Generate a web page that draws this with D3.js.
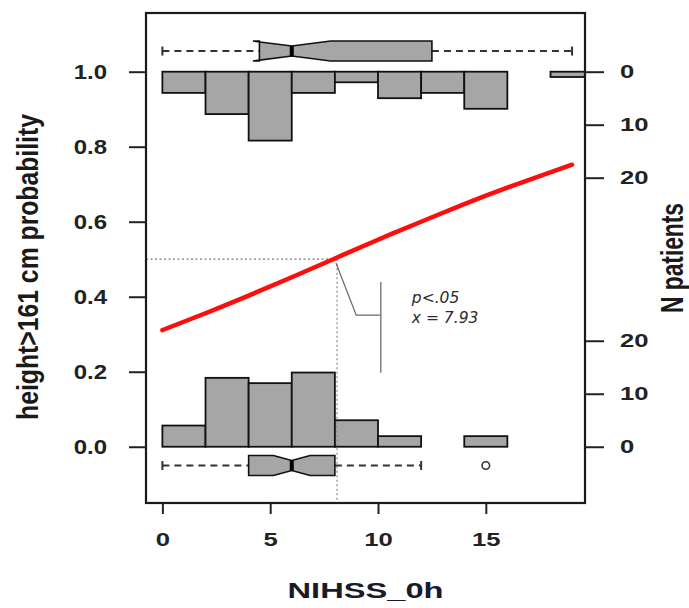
<!DOCTYPE html>
<html>
<head>
<meta charset="utf-8">
<script src="https://cdn.jsdelivr.net/npm/d3@7"></script>
<style>
  body { margin: 0; background: #fff; }
  svg { display: block; }
</style>
</head>
<body>
<div id="chart"></div>
<script>
// histogram of NIHSS_0h, bins of width 2
const binStarts = [0, 2, 4, 6, 8, 10, 12, 14, 16, 18];
const binWidth = 2;
const countsHigh = [4, 8, 13, 4, 2, 5, 4, 7, 0, 1];   // height>161 cm (hanging from top)
const countsLow = [4, 13, 12, 14, 5, 2, 0, 2, 0, 0];  // the rest (standing on 0)

// notched boxplots: [whisker lo, q1, notch lo, median, notch hi, q3, whisker hi]
const boxHigh = [0, 4.5, 4.2, 6, 7.8, 12.5, 19];
const boxLow = [0, 4, 5.15, 6, 6.85, 8, 12];
const outliersLow = [15];

// fitted logistic curve
const curveX = [0, 2, 4, 6, 8, 10, 12, 14, 16, 19];
const curveP = [0.311, 0.356, 0.403, 0.452, 0.502, 0.552, 0.600, 0.647, 0.691, 0.752];

// cut point annotation
const cutX = 8.1;
const cutP = 0.5;
const leader = [[8.05, 0.49], [8.99, 0.351], [10.13, 0.351]];
const bracket = [[10.13, 0.439], [10.13, 0.197]];
const noteLines = ["p<.05", "x = 7.93"];

const xTicks = [0, 5, 10, 15];
const yTicks = [0, 0.2, 0.4, 0.6, 0.8, 1.0];
const nTicks = [0, 10, 20];

const W = 689, H = 608;
const plot = {left: 146, right: 585, top: 13, bottom: 503};

const svg = d3.select("#chart").append("svg")
    .attr("width", W)
    .attr("height", H);

const x = d3.scaleLinear().domain([-0.76, 19.6]).range([plot.left, plot.right]);
const y = d3.scaleLinear().domain([-0.15, 1.1565]).range([plot.bottom, plot.top]);
// patient counts, drawn down from p=1 and up from p=0
const nTop = d3.scaleLinear().domain([0, 20]).range([y(1), y(1) + 106]);
const nBot = d3.scaleLinear().domain([0, 20]).range([y(0), y(0) - 106]);

svg.append("clipPath").attr("id", "clip")
  .append("rect")
    .attr("x", plot.left).attr("y", plot.top)
    .attr("width", plot.right - plot.left)
    .attr("height", plot.bottom - plot.top);

const g = svg.append("g").attr("clip-path", "url(#clip)");

const grey = "#a6a6a6";

// histograms
g.selectAll("rect.top")
  .data(binStarts.map((b, i) => ({b, n: countsHigh[i]})).filter(d => d.n > 0))
  .join("rect")
    .attr("class", "top")
    .attr("x", d => x(d.b))
    .attr("y", nTop(0))
    .attr("width", d => x(d.b + binWidth) - x(d.b))
    .attr("height", d => nTop(d.n) - nTop(0))
    .attr("fill", grey)
    .attr("stroke", "#111")
    .attr("stroke-width", 1.8);

g.selectAll("rect.bot")
  .data(binStarts.map((b, i) => ({b, n: countsLow[i]})).filter(d => d.n > 0))
  .join("rect")
    .attr("class", "bot")
    .attr("x", d => x(d.b))
    .attr("y", d => nBot(d.n))
    .attr("width", d => x(d.b + binWidth) - x(d.b))
    .attr("height", d => nBot(0) - nBot(d.n))
    .attr("fill", grey)
    .attr("stroke", "#111")
    .attr("stroke-width", 1.8);

// notched boxplot
function drawBox(stats, pos, outliers) {
  const [lo, q1, nlo, med, nhi, q3, hi] = stats;
  const cy = y(pos), h = 10;
  const bg = g.append("g");

  bg.selectAll("line.wh")
    .data([[lo, q1], [q3, hi]])
    .join("line")
      .attr("x1", d => x(d[0])).attr("x2", d => x(d[1]))
      .attr("y1", cy).attr("y2", cy)
      .attr("stroke", "#333").attr("stroke-width", 2)
      .attr("stroke-dasharray", "7,5");

  bg.selectAll("line.cap")
    .data([lo, hi])
    .join("line")
      .attr("x1", d => x(d)).attr("x2", d => x(d))
      .attr("y1", cy - 4.5).attr("y2", cy + 4.5)
      .attr("stroke", "#333").attr("stroke-width", 2);

  const pts = [
    [q1, -1], [nlo, -1], [med, -0.5], [nhi, -1], [q3, -1],
    [q3, 1], [nhi, 1], [med, 0.5], [nlo, 1], [q1, 1]
  ];
  bg.append("path")
    .attr("d", d3.line().x(d => x(d[0])).y(d => cy + d[1] * h)(pts) + "Z")
    .attr("fill", grey)
    .attr("stroke", "#111")
    .attr("stroke-width", 1.6)
    .attr("stroke-linejoin", "miter");

  bg.append("line")
    .attr("x1", x(med)).attr("x2", x(med))
    .attr("y1", cy - h / 2).attr("y2", cy + h / 2)
    .attr("stroke", "#000").attr("stroke-width", 4);

  bg.selectAll("circle")
    .data(outliers)
    .join("circle")
      .attr("cx", d => x(d)).attr("cy", cy).attr("r", 3.8)
      .attr("fill", "none").attr("stroke", "#333").attr("stroke-width", 1.6);
}

drawBox(boxHigh, 1.055, []);
drawBox(boxLow, -0.05, outliersLow);

// dotted guides at the cut point
g.append("line")
  .attr("x1", plot.left).attr("x2", x(cutX))
  .attr("y1", y(cutP)).attr("y2", y(cutP))
  .attr("stroke", "#777").attr("stroke-width", 1.2)
  .attr("stroke-dasharray", "2,2.5");
g.append("line")
  .attr("x1", x(cutX)).attr("x2", x(cutX))
  .attr("y1", y(cutP)).attr("y2", plot.bottom)
  .attr("stroke", "#888").attr("stroke-width", 1.2)
  .attr("stroke-dasharray", "2,2.5");

// fitted curve
g.append("path")
  .attr("d", d3.line().curve(d3.curveNatural)
    .x(d => x(d)).y((d, i) => y(curveP[i]))(curveX))
  .attr("fill", "none")
  .attr("stroke", "#ff0d0d")
  .attr("stroke-width", 4.5)
  .attr("stroke-linecap", "round");

// annotation
const ln = d3.line().x(d => x(d[0])).y(d => y(d[1]));
g.append("path").attr("d", ln(leader))
  .attr("fill", "none").attr("stroke", "#666").attr("stroke-width", 1.2);
g.append("path").attr("d", ln(bracket))
  .attr("fill", "none").attr("stroke", "#777").attr("stroke-width", 1.4);

svg.selectAll("text.note")
  .data(noteLines)
  .join("text")
    .attr("class", "note")
    .attr("x", x(11.57))
    .attr("y", (d, i) => y(0.384) + i * 20.3)
    .attr("font-family", "DejaVu Sans, sans-serif")
    .attr("font-style", "italic")
    .attr("font-size", 15.5)
    .attr("fill", "#2a2a2a")
    .text(d => d);

// frame
svg.append("rect")
  .attr("x", plot.left).attr("y", plot.top)
  .attr("width", plot.right - plot.left)
  .attr("height", plot.bottom - plot.top)
  .attr("fill", "none")
  .attr("stroke", "#1a1a1a")
  .attr("stroke-width", 2.2);

// widen tick text horizontally without moving its anchor
function widen(sel, sx) {
  sel.each(function() {
    const t = d3.select(this);
    const tx = +t.attr("x") || 0;
    t.attr("x", tx / sx).attr("transform", `scale(${sx},1)`);
  });
}

function styleAxis(ax, family, size, sx) {
  ax.select(".domain").remove();
  ax.selectAll(".tick line").attr("stroke", "#222").attr("stroke-width", 2);
  ax.selectAll(".tick text")
    .attr("font-family", family)
    .attr("font-weight", "bold")
    .attr("font-size", size)
    .attr("fill", "#222");
  widen(ax.selectAll(".tick text"), sx);
}

const axB = svg.append("g")
  .attr("transform", `translate(0,${plot.bottom})`)
  .call(d3.axisBottom(x).tickValues(xTicks).tickSize(11).tickPadding(19).tickFormat(d3.format("d")));
styleAxis(axB, "Liberation Sans, Arial, sans-serif", 19, 1.35);

const axL = svg.append("g")
  .attr("transform", `translate(${plot.left},0)`)
  .call(d3.axisLeft(y).tickValues(yTicks).tickSize(17).tickPadding(22).tickFormat(d3.format(".1f")));
styleAxis(axL, "Liberation Sans, Arial, sans-serif", 20, 1.2);

const axRT = svg.append("g")
  .attr("transform", `translate(${plot.right},0)`)
  .call(d3.axisRight(nTop).tickValues(nTicks).tickSize(19).tickPadding(16));
styleAxis(axRT, "Liberation Sans, Arial, sans-serif", 19, 1.35);

const axRB = svg.append("g")
  .attr("transform", `translate(${plot.right},0)`)
  .call(d3.axisRight(nBot).tickValues(nTicks).tickSize(19).tickPadding(16));
styleAxis(axRB, "Liberation Sans, Arial, sans-serif", 19, 1.35);

// axis titles
svg.append("text")
  .attr("x", (plot.left + plot.right) / 2)
  .attr("y", 598)
  .attr("text-anchor", "middle")
  .attr("font-family", "Liberation Sans, Arial, sans-serif")
  .attr("font-weight", "bold")
  .attr("font-size", 22)
  .attr("fill", "#1a1a2a")
  .attr("textLength", 156)
  .attr("lengthAdjust", "spacingAndGlyphs")
  .text("NIHSS_0h");

svg.append("text")
  .attr("transform", `translate(38,267) scale(1.25,1) rotate(-90)`)
  .attr("text-anchor", "middle")
  .attr("font-family", "Liberation Sans, Arial, sans-serif")
  .attr("font-weight", "bold")
  .attr("font-size", 23)
  .attr("fill", "#1a1a1a")
  .attr("textLength", 306)
  .attr("lengthAdjust", "spacingAndGlyphs")
  .text("height>161 cm probability");

svg.append("text")
  .attr("transform", `translate(683,258) scale(1.45,1) rotate(-90)`)
  .attr("text-anchor", "middle")
  .attr("font-family", "Liberation Sans, Arial, sans-serif")
  .attr("font-weight", "bold")
  .attr("font-size", 22)
  .attr("fill", "#1a1a1a")
  .attr("textLength", 110)
  .attr("lengthAdjust", "spacingAndGlyphs")
  .text("N patients");
</script>
</body>
</html>
